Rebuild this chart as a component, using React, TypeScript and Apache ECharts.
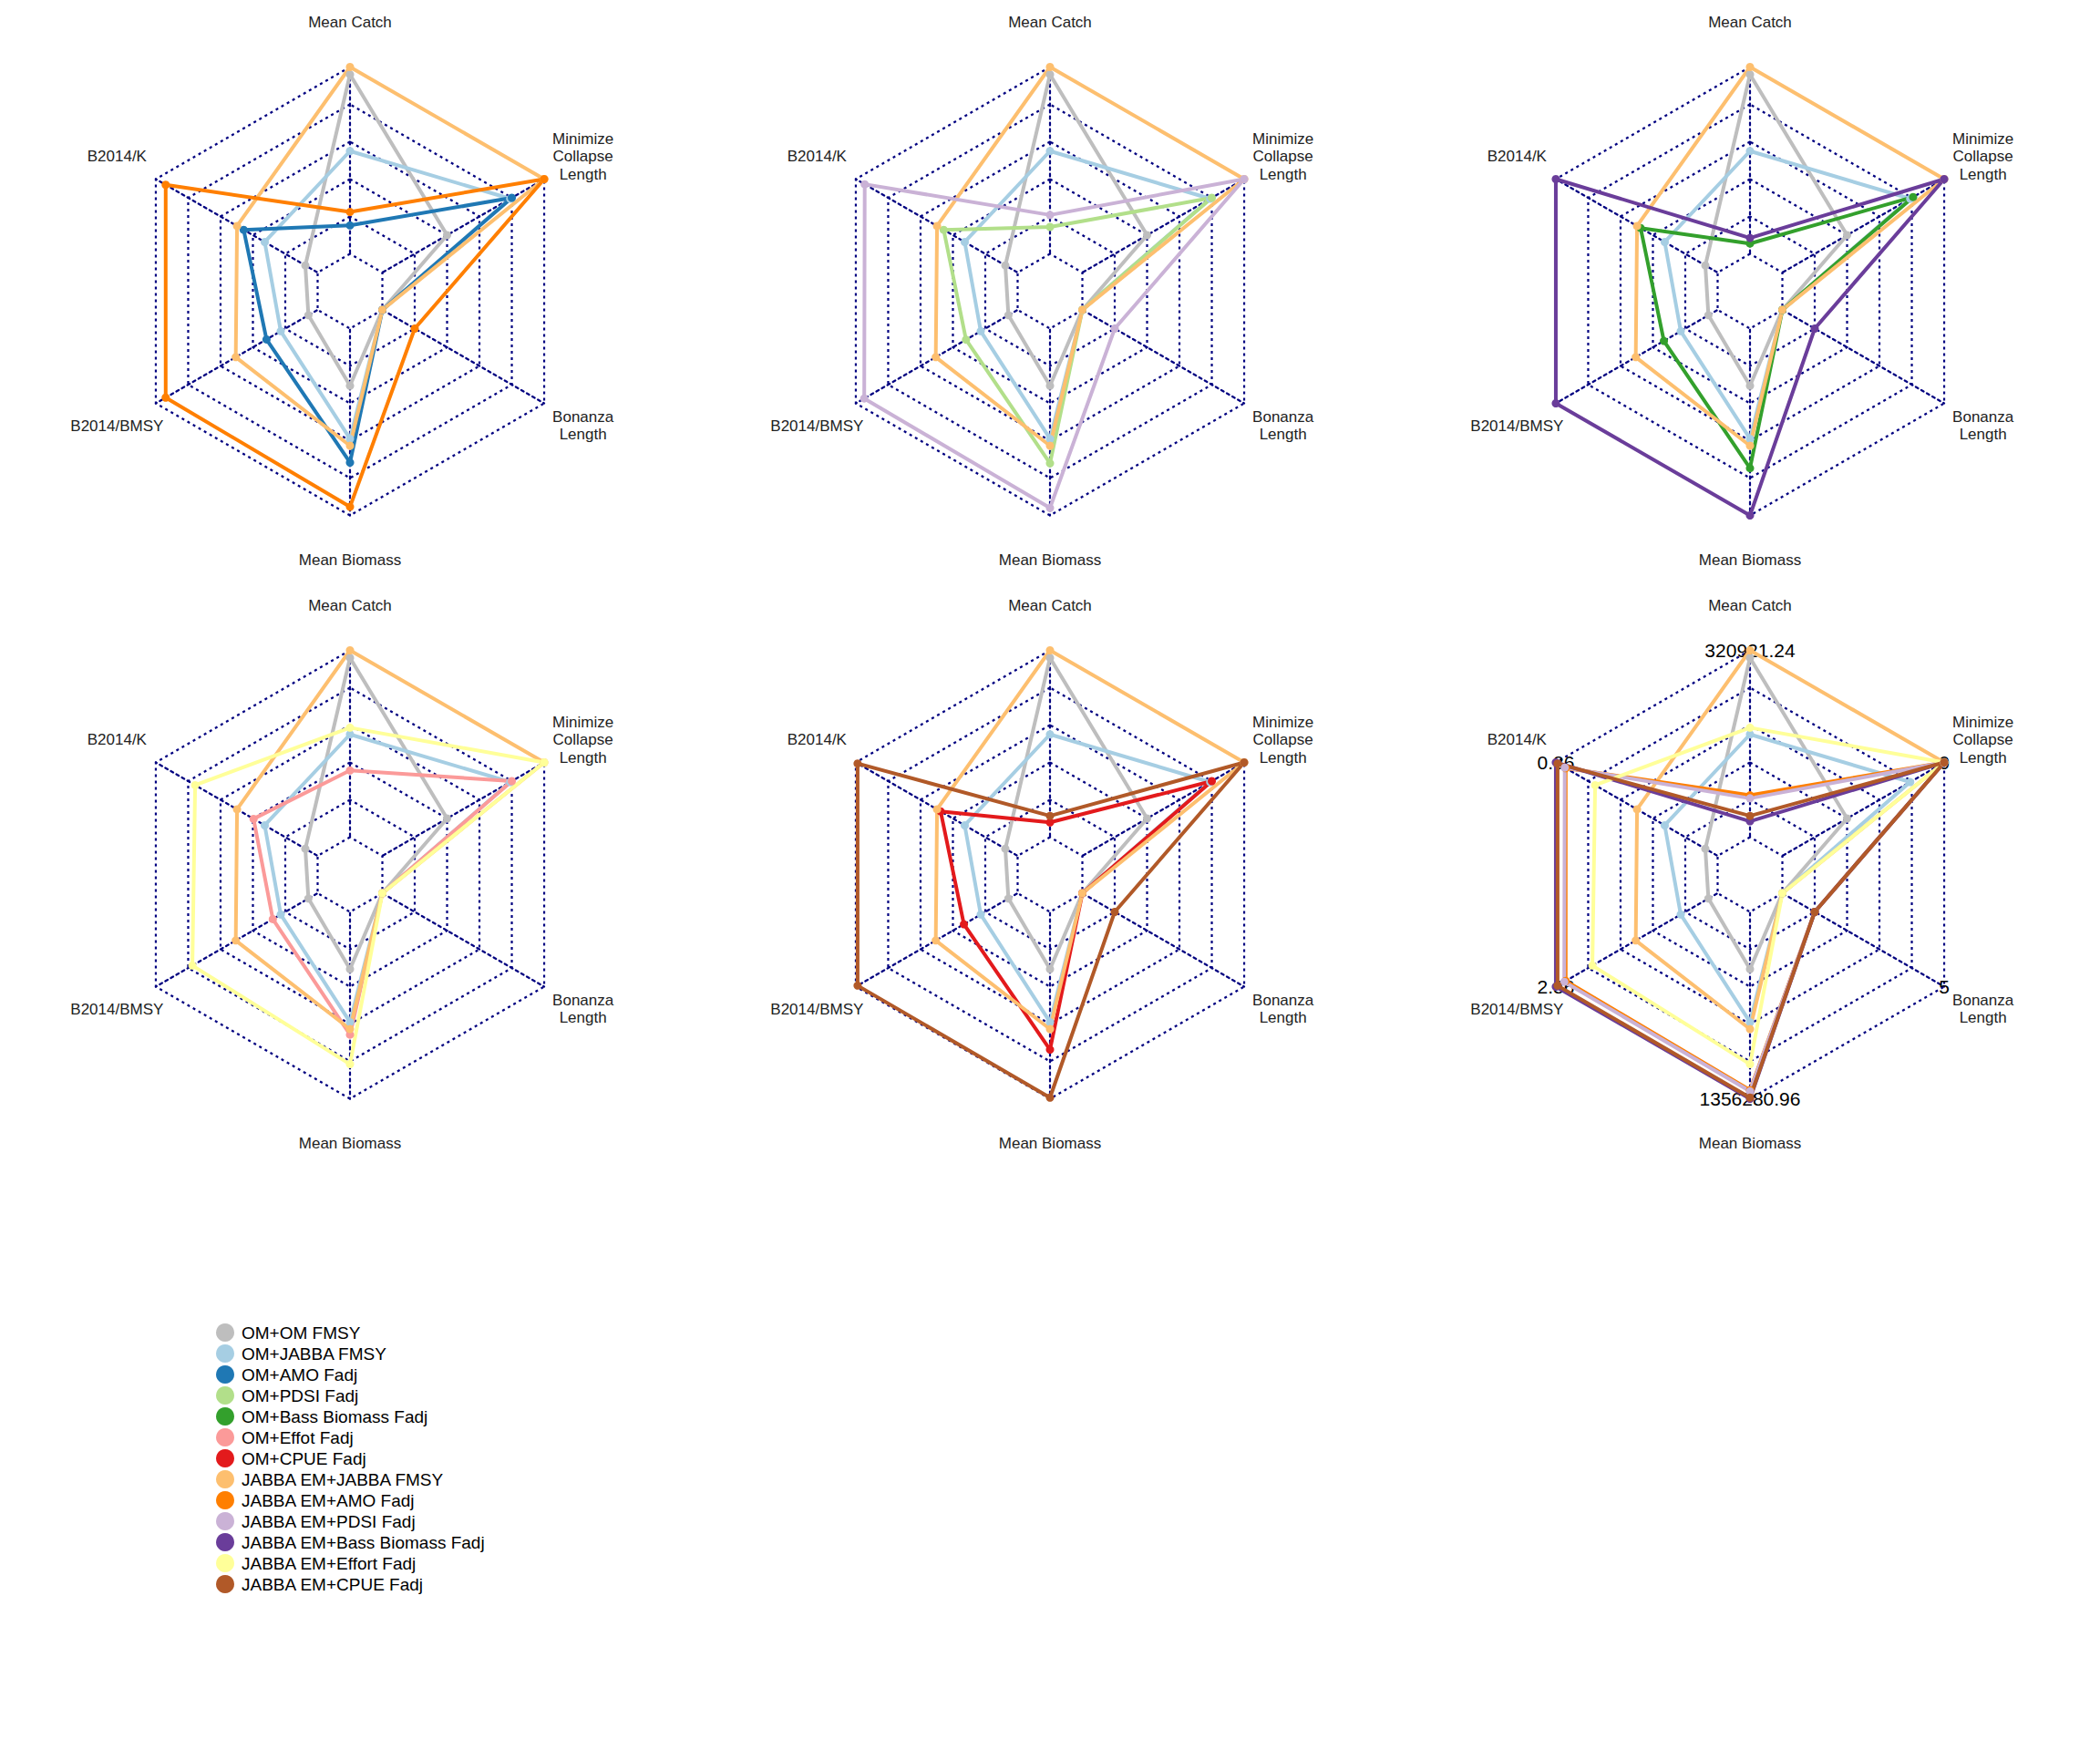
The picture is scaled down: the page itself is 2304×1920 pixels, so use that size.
import React, { useEffect, useRef } from "react";
import * as echarts from "echarts";

// Axes, counter-clockwise from the top (as in the reference)
const AXES = ["Mean Catch", "B2014/K", "B2014/BMSY", "Mean Biomass", "Bonanza Length", "Minimize Collapse Length"];
const AXIS_TEXT = ["Mean Catch", "B2014/K", "B2014/BMSY", "Mean Biomass", "Bonanza\nLength", "Minimize\nCollapse\nLength"];
// Axis maxima printed on the last panel
const MAX_LABELS = ["320921.24", "0.86", "2.86", "1356280.96", "5", "0"];
// Axis minimum (innermost ring) in normalised units
const INNER_RING = [0, 0, 0, 0, 0, 0];

// Normalised scores (0 = axis min, 1 = axis max), order as AXES
const OM_OM_FMSY = [0.96, 0.076, 0.057, 0.306, 0, 0.4];
const OM_JABBA_FMSY = [0.55, 0.327, 0.228, 0.59, 0, 0.79];
const OM_AMO_FADJ = [0.152, 0.457, 0.316, 0.717, 0, 0.8];
const OM_PDSI_FADJ = [0.144, 0.457, 0.319, 0.721, 0, 0.8];
const OM_BASS_FADJ = [0.055, 0.476, 0.332, 0.747, 0, 0.808];
const OM_EFFOT_FADJ = [0.357, 0.396, 0.277, 0.657, 0, 0.8];
const OM_CPUE_FADJ = [0.079, 0.476, 0.332, 0.737, 0, 0.8];
const JABBA_FMSY = [1, 0.498, 0.506, 0.627, 0, 1];
const JABBA_AMO_FADJ = [0.224, 0.939, 0.939, 0.954, 0.2, 1];
const JABBA_PDSI_FADJ = [0.208, 0.945, 0.948, 0.96, 0.2, 1];
const JABBA_BASS_FADJ = [0.085, 1, 1, 1, 0.2, 1];
const JABBA_EFFORT_FADJ = [0.586, 0.757, 0.774, 0.815, 0, 1];
const JABBA_CPUE_FADJ = [0.114, 0.989, 0.989, 0.994, 0.2, 1];

const SCENARIOS = [
  "OM+OM FMSY",
  "OM+JABBA FMSY",
  "OM+AMO Fadj",
  "OM+PDSI Fadj",
  "OM+Bass Biomass Fadj",
  "OM+Effot Fadj",
  "OM+CPUE Fadj",
  "JABBA EM+JABBA FMSY",
  "JABBA EM+AMO Fadj",
  "JABBA EM+PDSI Fadj",
  "JABBA EM+Bass Biomass Fadj",
  "JABBA EM+Effort Fadj",
  "JABBA EM+CPUE Fadj",
];
const SCENARIO_VALUES = [
  OM_OM_FMSY, OM_JABBA_FMSY, OM_AMO_FADJ, OM_PDSI_FADJ, OM_BASS_FADJ, OM_EFFOT_FADJ, OM_CPUE_FADJ,
  JABBA_FMSY, JABBA_AMO_FADJ, JABBA_PDSI_FADJ, JABBA_BASS_FADJ, JABBA_EFFORT_FADJ, JABBA_CPUE_FADJ,
];
const COLORS = [
  "#BEBEBE", "#A6CEE3", "#1F78B4", "#B2DF8A", "#33A02C", "#FB9A99", "#E31A1C",
  "#FDBF6F", "#FF7F00", "#CAB2D6", "#6A3D9A", "#FFFF99", "#B15928",
];
// Which scenarios appear on each panel (drawing order)
const PANEL_1 = [0, 1, 2, 7, 8];
const PANEL_2 = [0, 1, 3, 7, 9];
const PANEL_3 = [0, 1, 4, 7, 10];
const PANEL_4 = [0, 1, 5, 7, 11];
const PANEL_5 = [0, 1, 6, 7, 12];
const PANEL_6 = [0, 1, 7, 8, 9, 10, 11, 12];
const PANELS = [PANEL_1, PANEL_2, PANEL_3, PANEL_4, PANEL_5, PANEL_6];

const FONT = "'Liberation Sans', Arial, Helvetica, sans-serif";
const GRID_COLOR = "#000080";
const CLEAR = "rgba(0,0,0,0)";

export default function App() {
  const ref = useRef<HTMLDivElement>(null);

  useEffect(() => {
    document.body.style.margin = "0";
    document.body.style.background = "#fff";
    const chart = echarts.init(ref.current!, undefined, { renderer: "svg" });

    const R = 246;
    const gridLine = { color: GRID_COLOR, width: 2.2, type: [3, 4], opacity: 1 };
    const centers = PANELS.map((_, i) => [384 + 768 * (i % 3), 319.5 + 640 * Math.floor(i / 3)]);

    const radar = centers.map((c) => ({
      center: c,
      radius: R,
      startAngle: 90,
      splitNumber: 6,
      shape: "polygon",
      indicator: AXES.map((name) => ({ name, min: -0.2, max: 1 })),
      axisName: { show: false },
      axisTick: { show: false },
      axisLabel: { show: false },
      axisLine: { show: true, lineStyle: gridLine },
      splitLine: {
        show: true,
        lineStyle: { ...gridLine, color: [CLEAR, CLEAR, GRID_COLOR, GRID_COLOR, GRID_COLOR, GRID_COLOR, GRID_COLOR] },
      },
      splitArea: { show: false },
    }));

    // white fill that hides the spokes inside the innermost ring
    const innerFill = PANELS.map((_, i) => ({
      type: "radar",
      radarIndex: i,
      silent: true,
      z: 2,
      symbol: "none",
      lineStyle: { width: 0, opacity: 0 },
      data: [
        {
          name: "",
          value: INNER_RING,
          symbol: "none",
          areaStyle: { color: "#ffffff", opacity: 1 },
          lineStyle: { width: 0, opacity: 0 },
        },
      ],
    }));
    // the innermost dotted ring, drawn above the fill
    const innerLine = PANELS.map((_, i) => ({
      type: "radar",
      radarIndex: i,
      silent: true,
      z: 2.5,
      symbol: "none",
      lineStyle: gridLine,
      data: [{ name: "", value: INNER_RING, symbol: "none", lineStyle: gridLine }],
    }));

    const dataSeries = PANELS.map((panel, i) => ({
      type: "radar",
      radarIndex: i,
      symbol: "circle",
      symbolSize: 9,
      z: 3,
      data: panel.map((s) => ({
        name: SCENARIOS[s],
        value: SCENARIO_VALUES[s],
        lineStyle: { color: COLORS[s], width: 4, type: "solid" },
        itemStyle: { color: COLORS[s] },
      })),
    }));

    const graphics: any[] = [];
    centers.forEach((c, i) => {
      AXIS_TEXT.forEach((t, k) => {
        const a = ((90 + 60 * k) * Math.PI) / 180;
        graphics.push({
          type: "text",
          x: c[0] + 1.2 * R * Math.cos(a),
          y: c[1] - 1.2 * R * Math.sin(a),
          z: 1,
          silent: true,
          style: {
            text: t,
            fill: "#222",
            fontSize: 17,
            fontFamily: FONT,
            textAlign: "center",
            textVerticalAlign: "middle",
            lineHeight: 19.5,
          },
        });
      });
      if (i === 5) {
        MAX_LABELS.forEach((t, k) => {
          const a = ((90 + 60 * k) * Math.PI) / 180;
          graphics.push({
            type: "text",
            x: c[0] + R * Math.cos(a),
            y: c[1] - R * Math.sin(a),
            z: 1,
            silent: true,
            style: {
              text: t,
              fill: "#000",
              fontSize: 21,
              fontFamily: FONT,
              textAlign: "center",
              textVerticalAlign: "middle",
            },
          });
        });
      }
    });

    chart.setOption({
      animation: false,
      backgroundColor: "#fff",
      radar,
      series: [...innerFill, ...innerLine, ...dataSeries],
      graphic: graphics,
      legend: {
        data: SCENARIOS.map((name) => ({ name, icon: "circle" })),
        orient: "vertical",
        left: 237,
        top: 1452,
        padding: 0,
        itemWidth: 20,
        itemHeight: 20,
        itemGap: 3,
        selectedMode: false,
        textStyle: { fontSize: 19, fontFamily: FONT, color: "#000", lineHeight: 20, padding: [0, 0, 0, 3] },
      },
    });

    return () => chart.dispose();
  }, []);

  return <div ref={ref} style={{ width: 2304, height: 1920 }} />;
}
